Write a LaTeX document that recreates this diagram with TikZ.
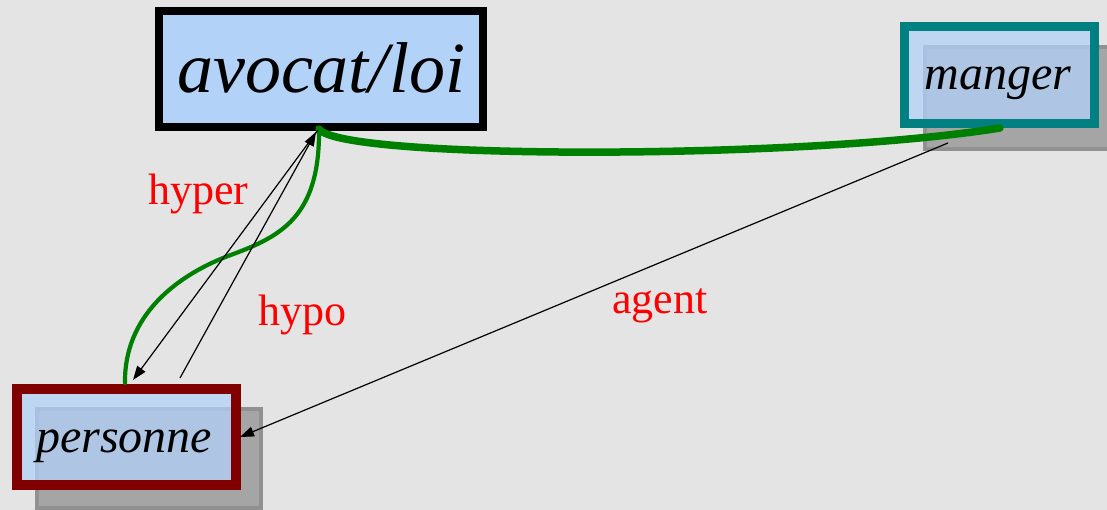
\documentclass[tikz,border=0pt]{standalone}
\usepackage{fontspec}
\setmainfont{Liberation Serif}
\newfontfamily\conceptfont{Liberation Serif Italic}
\usetikzlibrary{arrows.meta}
\definecolor{bg}{RGB}{228,228,228}
\definecolor{boxblue}{RGB}{178,210,248}
\definecolor{tealb}{RGB}{0,128,128}
\definecolor{darkredb}{RGB}{128,0,0}
\definecolor{grn}{RGB}{0,128,0}
\definecolor{shadowgray}{RGB}{165,165,165}
\definecolor{shadowedge}{RGB}{145,145,145}
\begin{document}
\begin{tikzpicture}[x=1pt,y=-1pt,
  conceptbox/.style={draw, fill=boxblue, fill opacity=0.75, draw opacity=1, inner sep=0pt},
  shadowbox/.style={fill=shadowgray, draw=shadowedge, line width=4pt},
  conceptlabel/.style={anchor=base west, text=red, font=\fontsize{44}{48}\selectfont, inner sep=0pt},
  rel/.style={line width=1.2pt, -{Triangle[length=14pt,width=10pt]}},
  greenthick/.style={draw=grn, line width=7.5pt, line cap=round},
  greenthin/.style={draw=grn, line width=4.2pt, line cap=round}]
\useasboundingbox (0,0) rectangle (1107,510);
\fill[bg] (0,0) rectangle (1107,510);
% shadows
\filldraw[shadowbox] (925,47) rectangle (1110,149);
\filldraw[shadowbox] (37,409) rectangle (261,508);
% boxes
\node[conceptbox, draw=black, line width=8pt, fill opacity=1, minimum width=324pt, minimum height=116pt] (av) at (321,69) {};
\node[conceptbox, draw=tealb, line width=9pt, minimum width=190pt, minimum height=97pt] (mg) at (999.5,75) {};
\node[conceptbox, draw=darkredb, line width=10pt, minimum width=219pt, minimum height=96pt] (pe) at (126.5,437) {};
% texts
\node[anchor=base, inner sep=0pt, font=\conceptfont\fontsize{72}{80}\selectfont] (avt) at (321,93) {avocat/loi};
\node[anchor=base, inner sep=0pt, font=\conceptfont\fontsize{48}{52}\selectfont] (mgt) at (998,90) {manger};
\node[anchor=base, inner sep=0pt, font=\conceptfont\fontsize{48}{52}\selectfont] (pet) at (124,452) {personne};
% anchor points
\coordinate (avA) at (318,130);
\coordinate (avB) at (316,132);
\coordinate (avG) at (319,129);
\coordinate (mgG) at (1000,128);
\coordinate (mgA) at (948,143);
\coordinate (peA) at (133,380);
\coordinate (peB) at (180,378);
\coordinate (peG) at (125,383);
\coordinate (peR) at (240,437);
\coordinate (sMid) at (228,256);
% green links
\draw[greenthick] (avG) .. controls (340,160) and (800,160) .. (mgG);
\draw[greenthin] (avG) .. controls (320,218) and (280,237) .. (sMid)
                        .. controls (176,276) and (124,316) .. (peG);
% relations
\draw[rel] (avA) -- (peA);
\draw[rel] (peB) -- (avB);
\draw[rel] (mgA) -- (peR);
% labels
\node[conceptlabel] (lhyper) at (148,205) {hyper};
\node[conceptlabel] (lhypo) at (258,325) {hypo};
\node[conceptlabel] (lagent) at (612,313) {agent};
\end{tikzpicture}
\end{document}
